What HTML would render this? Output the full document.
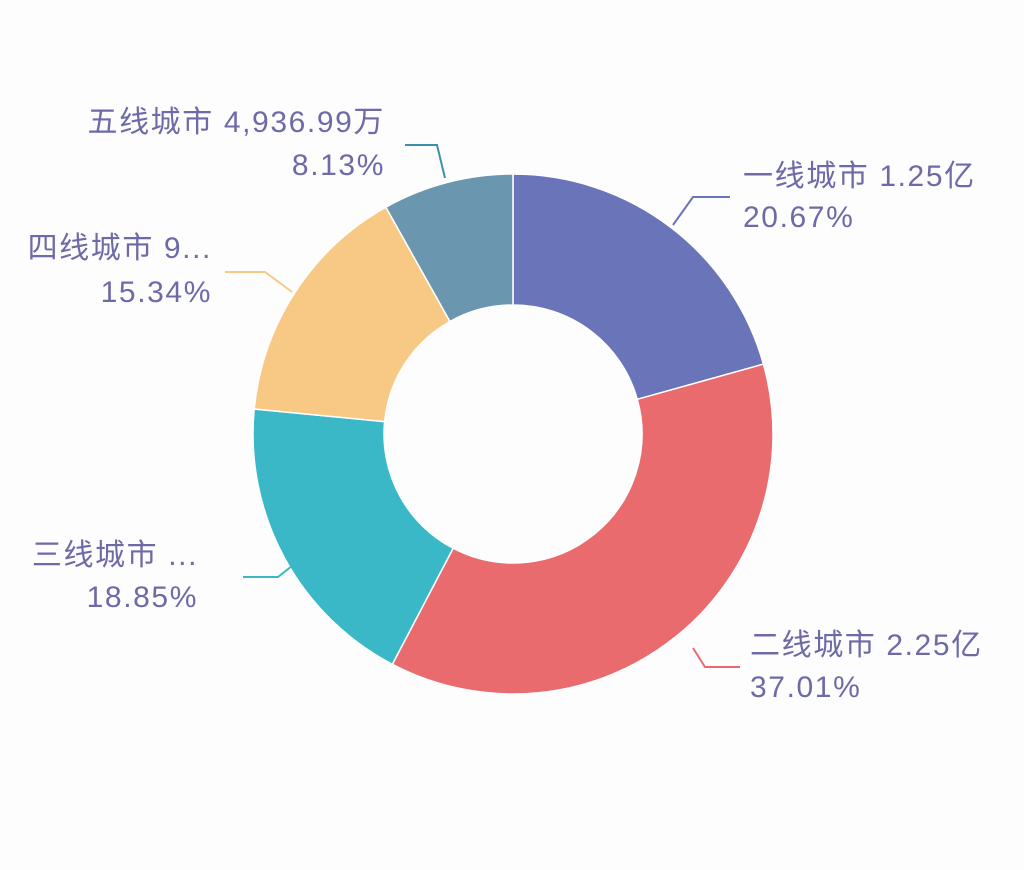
<!DOCTYPE html>
<html><head><meta charset="utf-8"><style>
html,body{margin:0;padding:0;background:#fdfdfd;}
svg{display:block}
text{font-family:"Liberation Sans","Noto Sans CJK SC",sans-serif;font-size:30px;letter-spacing:1.6px;fill:#6e6aa8;}
</style></head><body>
<svg id="s" width="1024" height="870" viewBox="0 0 1024 870">
<rect width="1024" height="870" fill="#fdfdfd"/>
<g id="pie"></g>
<polyline points="673,225 693,197 730,197" fill="none" stroke="#6a74b8" stroke-width="2"/>
<polyline points="693,648 705,667 740,667" fill="none" stroke="#e96b6e" stroke-width="2"/>
<polyline points="243,577 278,577 297,562" fill="none" stroke="#3ab8c8" stroke-width="2"/>
<polyline points="225,272 265,272 292,292" fill="none" stroke="#f7c985" stroke-width="2"/>
<polyline points="405,145 437,145 445,178" fill="none" stroke="#3d8fb0" stroke-width="2"/>
<text x="743" y="186">一线城市 1.25亿</text>
<text x="743" y="227">20.67%</text>
<text x="750" y="655">二线城市 2.25亿</text>
<text x="750" y="697">37.01%</text>
<text x="198" y="565" text-anchor="end">三线城市 ...</text>
<text x="198" y="607" text-anchor="end">18.85%</text>
<text x="212" y="258" text-anchor="end">四线城市 9...</text>
<text x="212" y="302" text-anchor="end">15.34%</text>
<text x="385" y="132" text-anchor="end">五线城市 4,936.99万</text>
<text x="385" y="175" text-anchor="end">8.13%</text>
</svg>
<script>
var cx=513,cy=434,R=260,r=129;
var d=[[20.67,"#6a74b8"],[37.01,"#e96b6e"],[18.85,"#3ab8c8"],[15.34,"#f7c985"],[8.13,"#6b96b0"]];
var a=0,g=document.getElementById("pie"),h="";
function p(rad,ang){var t=ang*Math.PI*2-Math.PI/2;return (cx+rad*Math.cos(t)).toFixed(2)+","+(cy+rad*Math.sin(t)).toFixed(2);}
d.forEach(function(s){var b=a+s[0]/100;var l=(b-a)>0.5?1:0;
h+='<path d="M'+p(R,a)+' A'+R+','+R+' 0 '+l+' 1 '+p(R,b)+' L'+p(r,b)+' A'+r+','+r+' 0 '+l+' 0 '+p(r,a)+' Z" fill="'+s[1]+'" stroke="#fff" stroke-width="1.5"/>';a=b;});
g.innerHTML=h;
</script>
</body></html>
